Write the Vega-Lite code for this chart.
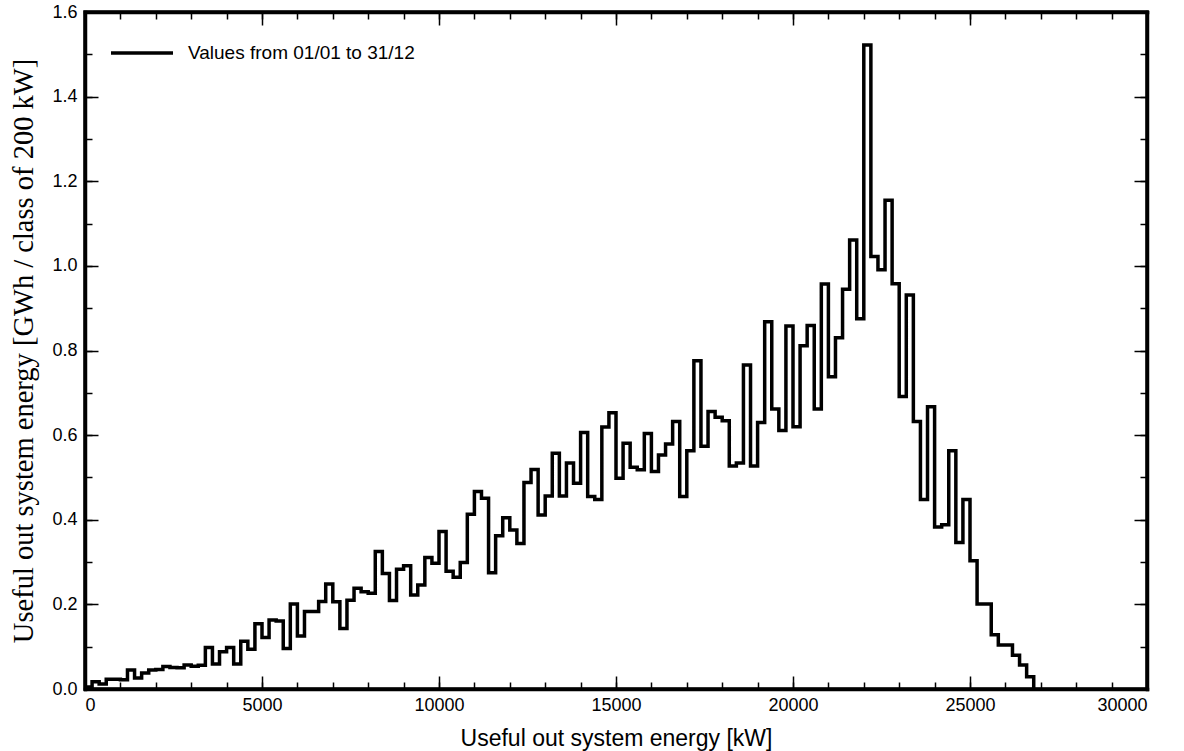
{
  "$schema": "https://vega.github.io/schema/vega-lite/v6.json",
  "width": 1062,
  "height": 677,
  "autosize": {"type": "none"},
  "padding": {"left": 85, "top": 12, "right": 37, "bottom": 62},
  "background": "white",
  "view": {"stroke": "black", "strokeWidth": 3.5, "fill": "white"},
  "config": {
    "view": {"stroke": "black", "strokeWidth": 3.5},
    "axis": {"grid": false, "domain": false, "labelFont": "Liberation Sans", "labelFontSize": 18, "labelColor": "black", "tickColor": "black", "tickWidth": 1.5}
  },
  "data": {"values": [
    {"kW": 0, "GWh": 0.005}, {"kW": 200, "GWh": 0.017}, {"kW": 400, "GWh": 0.012}, {"kW": 600, "GWh": 0.023},
    {"kW": 800, "GWh": 0.023}, {"kW": 1000, "GWh": 0.022}, {"kW": 1200, "GWh": 0.045}, {"kW": 1400, "GWh": 0.026},
    {"kW": 1600, "GWh": 0.038}, {"kW": 1800, "GWh": 0.045}, {"kW": 2000, "GWh": 0.046}, {"kW": 2200, "GWh": 0.053},
    {"kW": 2400, "GWh": 0.051}, {"kW": 2600, "GWh": 0.050}, {"kW": 2800, "GWh": 0.057}, {"kW": 3000, "GWh": 0.054},
    {"kW": 3200, "GWh": 0.056}, {"kW": 3400, "GWh": 0.098}, {"kW": 3600, "GWh": 0.059}, {"kW": 3800, "GWh": 0.088},
    {"kW": 4000, "GWh": 0.098}, {"kW": 4200, "GWh": 0.059}, {"kW": 4400, "GWh": 0.113}, {"kW": 4600, "GWh": 0.094},
    {"kW": 4800, "GWh": 0.154}, {"kW": 5000, "GWh": 0.122}, {"kW": 5200, "GWh": 0.163}, {"kW": 5400, "GWh": 0.161},
    {"kW": 5600, "GWh": 0.096}, {"kW": 5800, "GWh": 0.201}, {"kW": 6000, "GWh": 0.125}, {"kW": 6200, "GWh": 0.183},
    {"kW": 6400, "GWh": 0.183}, {"kW": 6600, "GWh": 0.207}, {"kW": 6800, "GWh": 0.248}, {"kW": 7000, "GWh": 0.206},
    {"kW": 7200, "GWh": 0.143}, {"kW": 7400, "GWh": 0.210}, {"kW": 7600, "GWh": 0.238}, {"kW": 7800, "GWh": 0.230},
    {"kW": 8000, "GWh": 0.226}, {"kW": 8200, "GWh": 0.325}, {"kW": 8400, "GWh": 0.273}, {"kW": 8600, "GWh": 0.209},
    {"kW": 8800, "GWh": 0.283}, {"kW": 9000, "GWh": 0.291}, {"kW": 9200, "GWh": 0.222}, {"kW": 9400, "GWh": 0.246},
    {"kW": 9600, "GWh": 0.311}, {"kW": 9800, "GWh": 0.297}, {"kW": 10000, "GWh": 0.372}, {"kW": 10200, "GWh": 0.278},
    {"kW": 10400, "GWh": 0.264}, {"kW": 10600, "GWh": 0.299}, {"kW": 10800, "GWh": 0.413}, {"kW": 11000, "GWh": 0.467},
    {"kW": 11200, "GWh": 0.451}, {"kW": 11400, "GWh": 0.275}, {"kW": 11600, "GWh": 0.362}, {"kW": 11800, "GWh": 0.405},
    {"kW": 12000, "GWh": 0.376}, {"kW": 12200, "GWh": 0.344}, {"kW": 12400, "GWh": 0.488}, {"kW": 12600, "GWh": 0.519},
    {"kW": 12800, "GWh": 0.411}, {"kW": 13000, "GWh": 0.456}, {"kW": 13200, "GWh": 0.557}, {"kW": 13400, "GWh": 0.456},
    {"kW": 13600, "GWh": 0.534}, {"kW": 13800, "GWh": 0.486}, {"kW": 14000, "GWh": 0.606}, {"kW": 14200, "GWh": 0.455},
    {"kW": 14400, "GWh": 0.448}, {"kW": 14600, "GWh": 0.619}, {"kW": 14800, "GWh": 0.653}, {"kW": 15000, "GWh": 0.498},
    {"kW": 15200, "GWh": 0.581}, {"kW": 15400, "GWh": 0.524}, {"kW": 15600, "GWh": 0.518}, {"kW": 15800, "GWh": 0.604},
    {"kW": 16000, "GWh": 0.514}, {"kW": 16200, "GWh": 0.553}, {"kW": 16400, "GWh": 0.579}, {"kW": 16600, "GWh": 0.632},
    {"kW": 16800, "GWh": 0.455}, {"kW": 17000, "GWh": 0.563}, {"kW": 17200, "GWh": 0.776}, {"kW": 17400, "GWh": 0.574},
    {"kW": 17600, "GWh": 0.656}, {"kW": 17800, "GWh": 0.642}, {"kW": 18000, "GWh": 0.634}, {"kW": 18200, "GWh": 0.527},
    {"kW": 18400, "GWh": 0.534}, {"kW": 18600, "GWh": 0.766}, {"kW": 18800, "GWh": 0.527}, {"kW": 19000, "GWh": 0.630},
    {"kW": 19200, "GWh": 0.868}, {"kW": 19400, "GWh": 0.662}, {"kW": 19600, "GWh": 0.611}, {"kW": 19800, "GWh": 0.858},
    {"kW": 20000, "GWh": 0.620}, {"kW": 20200, "GWh": 0.811}, {"kW": 20400, "GWh": 0.859}, {"kW": 20600, "GWh": 0.662},
    {"kW": 20800, "GWh": 0.957}, {"kW": 21000, "GWh": 0.738}, {"kW": 21200, "GWh": 0.830}, {"kW": 21400, "GWh": 0.945},
    {"kW": 21600, "GWh": 1.061}, {"kW": 21800, "GWh": 0.875}, {"kW": 22000, "GWh": 1.522}, {"kW": 22200, "GWh": 1.022},
    {"kW": 22400, "GWh": 0.991}, {"kW": 22600, "GWh": 1.155}, {"kW": 22800, "GWh": 0.958}, {"kW": 23000, "GWh": 0.691},
    {"kW": 23200, "GWh": 0.931}, {"kW": 23400, "GWh": 0.632}, {"kW": 23600, "GWh": 0.448}, {"kW": 23800, "GWh": 0.667},
    {"kW": 24000, "GWh": 0.383}, {"kW": 24200, "GWh": 0.388}, {"kW": 24400, "GWh": 0.563}, {"kW": 24600, "GWh": 0.346},
    {"kW": 24800, "GWh": 0.448}, {"kW": 25000, "GWh": 0.303}, {"kW": 25200, "GWh": 0.201}, {"kW": 25400, "GWh": 0.201},
    {"kW": 25600, "GWh": 0.128}, {"kW": 25800, "GWh": 0.104}, {"kW": 26000, "GWh": 0.104}, {"kW": 26200, "GWh": 0.080},
    {"kW": 26400, "GWh": 0.057}, {"kW": 26600, "GWh": 0.029}, {"kW": 26800, "GWh": 0}
  ]},
  "layer": [
    {
      "mark": {"type": "line", "interpolate": "step-after", "strokeWidth": 3.5, "strokeJoin": "miter", "strokeCap": "butt"},
      "encoding": {
        "x": {"field": "kW", "type": "quantitative", "scale": {"domain": [0, 30000], "nice": false, "zero": false},
          "axis": {"orient": "bottom", "values": [0, 5000, 10000, 15000, 20000, 25000, 30000], "format": "d", "tickSize": -13, "labelPadding": 20,
            "domain": true, "domainColor": "black", "domainWidth": 3.5, "domainCap": "square",
            "title": "Useful out system energy [kW]", "titleFont": "Liberation Sans", "titleFontSize": 23, "titleFontWeight": "normal", "titleColor": "black", "titlePadding": 13}},
        "y": {"field": "GWh", "type": "quantitative", "scale": {"domain": [0, 1.6], "nice": false, "zero": false},
          "axis": {"orient": "left", "values": [0, 0.2, 0.4, 0.6, 0.8, 1.0, 1.2, 1.4, 1.6], "format": ".1f", "tickSize": -13, "labelPadding": 21,
            "domain": true, "domainColor": "black", "domainWidth": 3.5, "domainCap": "square",
            "title": "Useful out system energy [GWh / class of 200 kW]", "titleFont": "Liberation Serif", "titleFontSize": 28.5, "titleFontWeight": "normal", "titleColor": "black", "titlePadding": 13}},
        "color": {"datum": "Values from 01/01 to 31/12", "type": "nominal", "scale": {"range": ["black"]},
          "legend": {"orient": "none", "legendX": 24, "legendY": 8, "title": null, "padding": 0, "symbolType": "stroke", "symbolSize": 3844, "symbolStrokeWidth": 3.5, "symbolStrokeColor": "black",
            "labelFont": "Liberation Sans", "labelFontSize": 19, "labelColor": "black", "labelOffset": 13, "labelLimit": 400}}
      }
    },
    {
      "mark": {"type": "line", "interpolate": "step-after", "strokeOpacity": 0},
      "encoding": {
        "x": {"field": "kW", "type": "quantitative", "scale": {"domain": [0, 30000], "nice": false, "zero": false},
          "axis": {"orient": "bottom", "values": [0, 1000, 2000, 3000, 4000, 5000, 6000, 7000, 8000, 9000, 10000, 11000, 12000, 13000, 14000, 15000, 16000, 17000, 18000, 19000, 20000, 21000, 22000, 23000, 24000, 25000, 26000, 27000, 28000, 29000, 30000], "tickSize": -7, "labels": false, "title": null}},
        "y": {"field": "GWh", "type": "quantitative", "scale": {"domain": [0, 1.6], "nice": false, "zero": false},
          "axis": {"orient": "left", "values": [0, 0.1, 0.2, 0.3, 0.4, 0.5, 0.6, 0.7, 0.8, 0.9, 1.0, 1.1, 1.2, 1.3, 1.4, 1.5, 1.6], "tickSize": -7, "labels": false, "title": null}}
      }
    },
    {
      "mark": {"type": "line", "interpolate": "step-after", "strokeOpacity": 0},
      "encoding": {
        "x": {"field": "kW", "type": "quantitative", "scale": {"domain": [0, 30000], "nice": false, "zero": false},
          "axis": {"orient": "top", "values": [0, 5000, 10000, 15000, 20000, 25000, 30000], "tickSize": -13, "labels": false, "title": null,
            "domain": true, "domainColor": "black", "domainWidth": 3.5, "domainCap": "square"}},
        "y": {"field": "GWh", "type": "quantitative", "scale": {"domain": [0, 1.6], "nice": false, "zero": false},
          "axis": {"orient": "right", "values": [0, 0.2, 0.4, 0.6, 0.8, 1.0, 1.2, 1.4, 1.6], "tickSize": -13, "labels": false, "title": null,
            "domain": true, "domainColor": "black", "domainWidth": 3.5, "domainCap": "square"}}
      }
    },
    {
      "mark": {"type": "line", "interpolate": "step-after", "strokeOpacity": 0},
      "encoding": {
        "x": {"field": "kW", "type": "quantitative", "scale": {"domain": [0, 30000], "nice": false, "zero": false},
          "axis": {"orient": "top", "values": [0, 1000, 2000, 3000, 4000, 5000, 6000, 7000, 8000, 9000, 10000, 11000, 12000, 13000, 14000, 15000, 16000, 17000, 18000, 19000, 20000, 21000, 22000, 23000, 24000, 25000, 26000, 27000, 28000, 29000, 30000], "tickSize": -7, "labels": false, "title": null}},
        "y": {"field": "GWh", "type": "quantitative", "scale": {"domain": [0, 1.6], "nice": false, "zero": false},
          "axis": {"orient": "right", "values": [0, 0.1, 0.2, 0.3, 0.4, 0.5, 0.6, 0.7, 0.8, 0.9, 1.0, 1.1, 1.2, 1.3, 1.4, 1.5, 1.6], "tickSize": -7, "labels": false, "title": null}}
      }
    }
  ],
  "resolve": {"axis": {"x": "independent", "y": "independent"}}
}
